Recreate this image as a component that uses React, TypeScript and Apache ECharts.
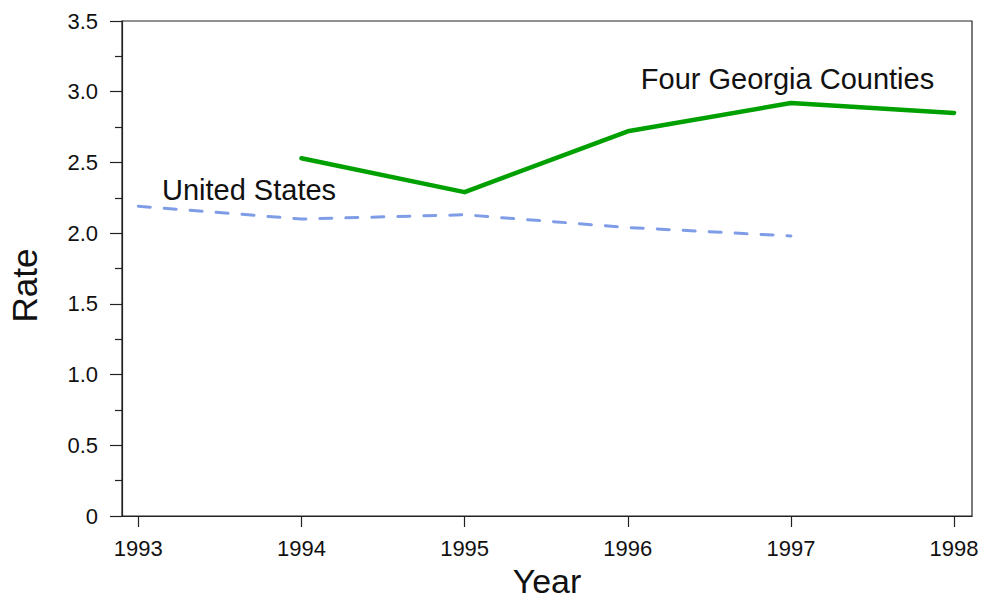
import React, { useEffect, useRef } from "react";
import * as echarts from "echarts";

const years = [1993, 1994, 1995, 1996, 1997, 1998];
const usYears = [1993, 1994, 1995, 1996, 1997];
const usRates = [2.19, 2.1, 2.13, 2.04, 1.98];
const gaYears = [1994, 1995, 1996, 1997, 1998];
const gaRates = [2.53, 2.29, 2.72, 2.92, 2.85];
const yTicks = [0, 0.5, 1.0, 1.5, 2.0, 2.5, 3.0, 3.5];
const labelUS = { text: "United States", x: 1993.145, y: 2.305 };
const labelGA = { text: "Four Georgia Counties", x: 1996.08, y: 3.09 };

const FONT = "'Liberation Sans', Arial, Helvetica, sans-serif";

export default function App() {
  const ref = useRef<HTMLDivElement>(null);
  useEffect(() => {
    if (!ref.current) return;
    const chart = echarts.init(ref.current, undefined, { renderer: "svg" });
    const option: any = {
      animation: false,
      backgroundColor: "#fff",
      grid: {
        left: 122,
        top: 21,
        right: 10,
        bottom: 84,
        show: true,
        borderColor: "#222",
        borderWidth: 1.2,
        backgroundColor: "transparent",
        containLabel: false,
        outerBoundsMode: "none",
      },
      xAxis: {
        type: "value",
        min: 1992.9,
        max: 1998.11,
        name: "Year",
        nameLocation: "middle",
        nameGap: 44,
        nameTextStyle: { fontFamily: FONT, fontSize: 34, color: "#111" },
        axisLine: { show: true, lineStyle: { color: "#222", width: 1.2 } },
        axisTick: {
          show: true,
          customValues: years,
          length: 11,
          inside: false,
          lineStyle: { color: "#222", width: 1.2 },
        },
        axisLabel: {
          customValues: years,
          formatter: (v: number) => String(Math.round(v)),
          fontFamily: FONT,
          fontSize: 22,
          color: "#111",
          margin: 21,
        },
        splitLine: { show: false },
      },
      yAxis: {
        type: "value",
        min: 0,
        max: 3.5,
        interval: 0.5,
        name: "Rate",
        nameLocation: "middle",
        nameGap: 80,
        nameRotate: 90,
        nameTextStyle: { fontFamily: FONT, fontSize: 35, color: "#111", padding: [0, 34, 0, 0] },
        axisLine: { show: true, lineStyle: { color: "#222", width: 1.2 } },
        axisTick: {
          show: true,
          length: 12,
          inside: false,
          lineStyle: { color: "#222", width: 1.2 },
        },
        minorTick: {
          show: true,
          splitNumber: 2,
          length: 7,
          lineStyle: { color: "#222", width: 1.2 },
        },
        axisLabel: {
          customValues: yTicks,
          formatter: (v: number) => (v === 0 ? "0" : v.toFixed(1)),
          fontFamily: FONT,
          fontSize: 22,
          color: "#111",
          margin: 24,
        },
        splitLine: { show: false },
      },
      series: [
        {
          name: "United States",
          type: "line",
          data: usYears.map((y, i) => [y, usRates[i]]),
          showSymbol: false,
          symbol: "none",
          lineStyle: { color: "#7f9ce6", width: 3, type: [12, 14], cap: "round" },
        },
        {
          name: "Four Georgia Counties",
          type: "line",
          data: gaYears.map((y, i) => [y, gaRates[i]]),
          showSymbol: false,
          symbol: "none",
          lineStyle: { color: "#00a000", width: 4.5, cap: "round", join: "round" },
        },
      ],
    };
    chart.setOption(option);
    const p1 = chart.convertToPixel({ gridIndex: 0 }, [labelUS.x, labelUS.y]);
    const p2 = chart.convertToPixel({ gridIndex: 0 }, [labelGA.x, labelGA.y]);
    chart.setOption({
      graphic: [
        {
          type: "text",
          x: p1[0],
          y: p1[1],
          style: {
            text: labelUS.text,
            fontFamily: FONT,
            fontSize: 29,
            fill: "#111",
            verticalAlign: "middle",
          },
        },
        {
          type: "text",
          x: p2[0],
          y: p2[1],
          style: {
            text: labelGA.text,
            fontFamily: FONT,
            fontSize: 29,
            fill: "#111",
            verticalAlign: "middle",
          },
        },
      ],
    });
    return () => chart.dispose();
  }, []);
  return <div ref={ref} style={{ width: 982, height: 600, position: "absolute", left: 0, top: 0 }} />;
}
